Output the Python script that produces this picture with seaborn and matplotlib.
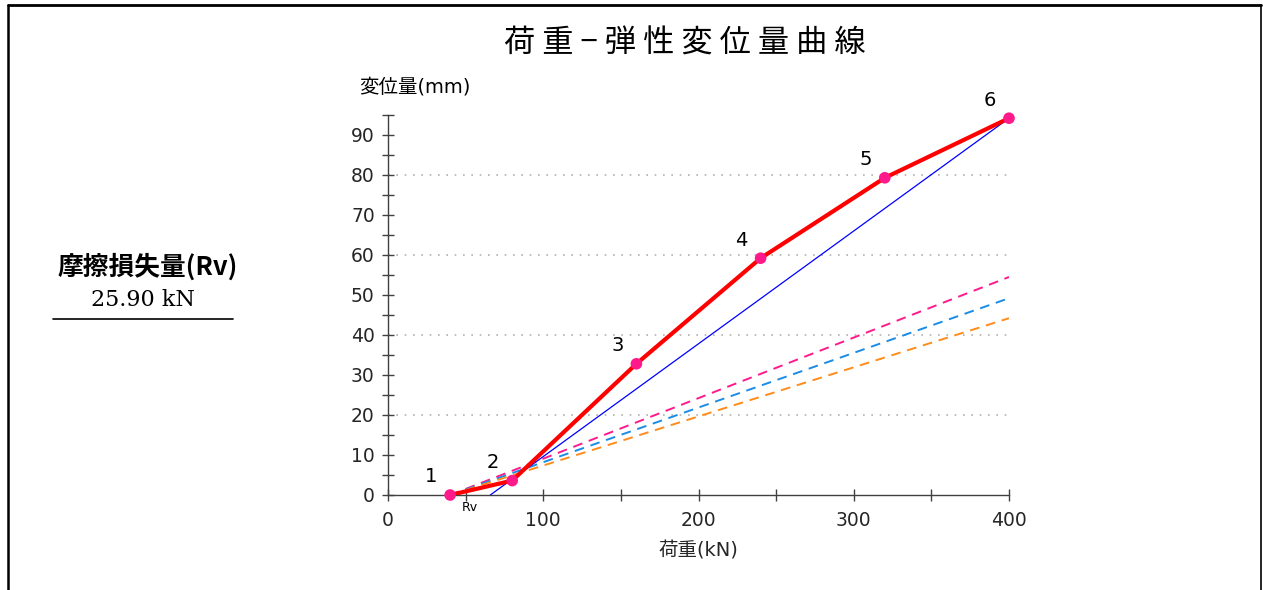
import matplotlib
matplotlib.use('Agg')
import matplotlib.pyplot as plt
from matplotlib.lines import Line2D
from matplotlib.ticker import MultipleLocator
import seaborn as sns
import pandas as pd

# load steps and measured elastic displacement
step_labels = ['1', '2', '3', '4', '5', '6']
load_kn = [40, 80, 160, 240, 320, 400]
disp_mm = [0.0, 3.6, 32.8, 59.2, 79.3, 94.2]

rv_kn = 25.90

# reference lines (start / end displacement at first and last load)
ref_names = ['upper', 'middle', 'lower']
ref_start = [0.0, 0.0, 0.0]
ref_end = [54.5, 49.2, 44.2]
ref_colors = ['#ff1a8c', '#1a8ce6', '#ff8c1a']

grid_levels = [20, 40, 60, 80]

sns.set_style('white')
plt.rcParams['font.family'] = ['DejaVu Sans', 'Noto Sans CJK JP']
plt.rcParams['text.color'] = 'black'

fig = plt.figure(figsize=(12.63, 5.90), dpi=100)
ax = fig.add_axes([388/1263, 95/590, (1009-388)/1263, 380/590])

df = pd.DataFrame({'load': load_kn, 'disp': disp_mm, 'step': step_labels})

for g in grid_levels:
    ax.axhline(g, color='#b0b0b0', lw=1.2, ls=(0, (1, 4)), zorder=0)

for name, y0, y1, c in zip(ref_names, ref_start, ref_end, ref_colors):
    sns.lineplot(x=[load_kn[0], load_kn[-1]], y=[y0, y1], ax=ax, color=c,
                 lw=1.4, dashes=False, linestyle=(0, (5, 3.5)), zorder=2)

# straight line from (first load + Rv, 0) to last point
sns.lineplot(x=[load_kn[0] + rv_kn, load_kn[-1]], y=[0, disp_mm[-1]], ax=ax,
             color='#0000ff', lw=0.9, zorder=3)

sns.lineplot(data=df, x='load', y='disp', ax=ax, color='#ff0000', lw=3,
             zorder=4, sort=False)
sns.scatterplot(data=df, x='load', y='disp', ax=ax, color='#ff1a8c', s=70,
                edgecolor='none', zorder=5, clip_on=False)

for i, row in df.iterrows():
    ax.annotate(row['step'], (row['load'], row['disp']), xytext=(-19, 18),
                textcoords='offset pixels', ha='center', va='center',
                fontsize=14)

ax.text(load_kn[0] + rv_kn / 2, -1.5, 'Rv', ha='center', va='top', fontsize=9)

ax.set_xlim(0, 400)
ax.set_ylim(0, 95)
ax.xaxis.set_major_locator(MultipleLocator(100))
ax.xaxis.set_minor_locator(MultipleLocator(50))
ax.yaxis.set_major_locator(MultipleLocator(10))
ax.yaxis.set_minor_locator(MultipleLocator(5))
ax.tick_params(which='both', bottom=True, left=True)
ax.tick_params(which='major', direction='inout', length=9, width=1,
               color='#404040', labelsize=13.5, pad=5)
ax.tick_params(which='minor', direction='inout', length=8, width=1,
               color='#404040')
ax.tick_params(axis='x', which='major', pad=7)
for s in ['top', 'right']:
    ax.spines[s].set_visible(False)
for s in ['left', 'bottom']:
    ax.spines[s].set_color('#404040')
    ax.spines[s].set_linewidth(1)

ax.set_xlabel('荷重(kN)', fontsize=14, labelpad=8)
ax.set_ylabel('')
fig.text(359/1263, 1 - 87/590, '変位量(mm)', fontsize=14, ha='left', va='center')

fig.text(685/1263, 1 - 44/590, ' '.join('荷重−弾性変位量曲線'), fontsize=22.5,
         ha='center', va='center', family=['Noto Sans CJK JP', 'DejaVu Sans'])

fig.text(148/1263, 1 - 267/590, '摩擦損失量(Rv)', fontsize=18.5,
         fontweight='bold', ha='center', va='center',
         family=['Noto Sans CJK JP', 'DejaVu Sans'])
fig.text(143/1263, 1 - 300/590, f'{rv_kn:.2f} kN', fontsize=16, ha='center',
         va='center', family='DejaVu Serif')
fig.add_artist(Line2D([53/1263, 233/1263], [1 - 319/590, 1 - 319/590],
                      color='black', lw=1.2))

# outer frame
fig.add_artist(Line2D([8/1263, 1261/1263], [1 - 5/590, 1 - 5/590],
                      color='black', lw=2))
fig.add_artist(Line2D([8/1263, 8/1263], [0, 1 - 5/590], color='black', lw=1.8))
fig.add_artist(Line2D([1261/1263, 1261/1263], [0, 1 - 5/590], color='black',
                      lw=1.2))

fig.savefig('out.png', dpi=100)
